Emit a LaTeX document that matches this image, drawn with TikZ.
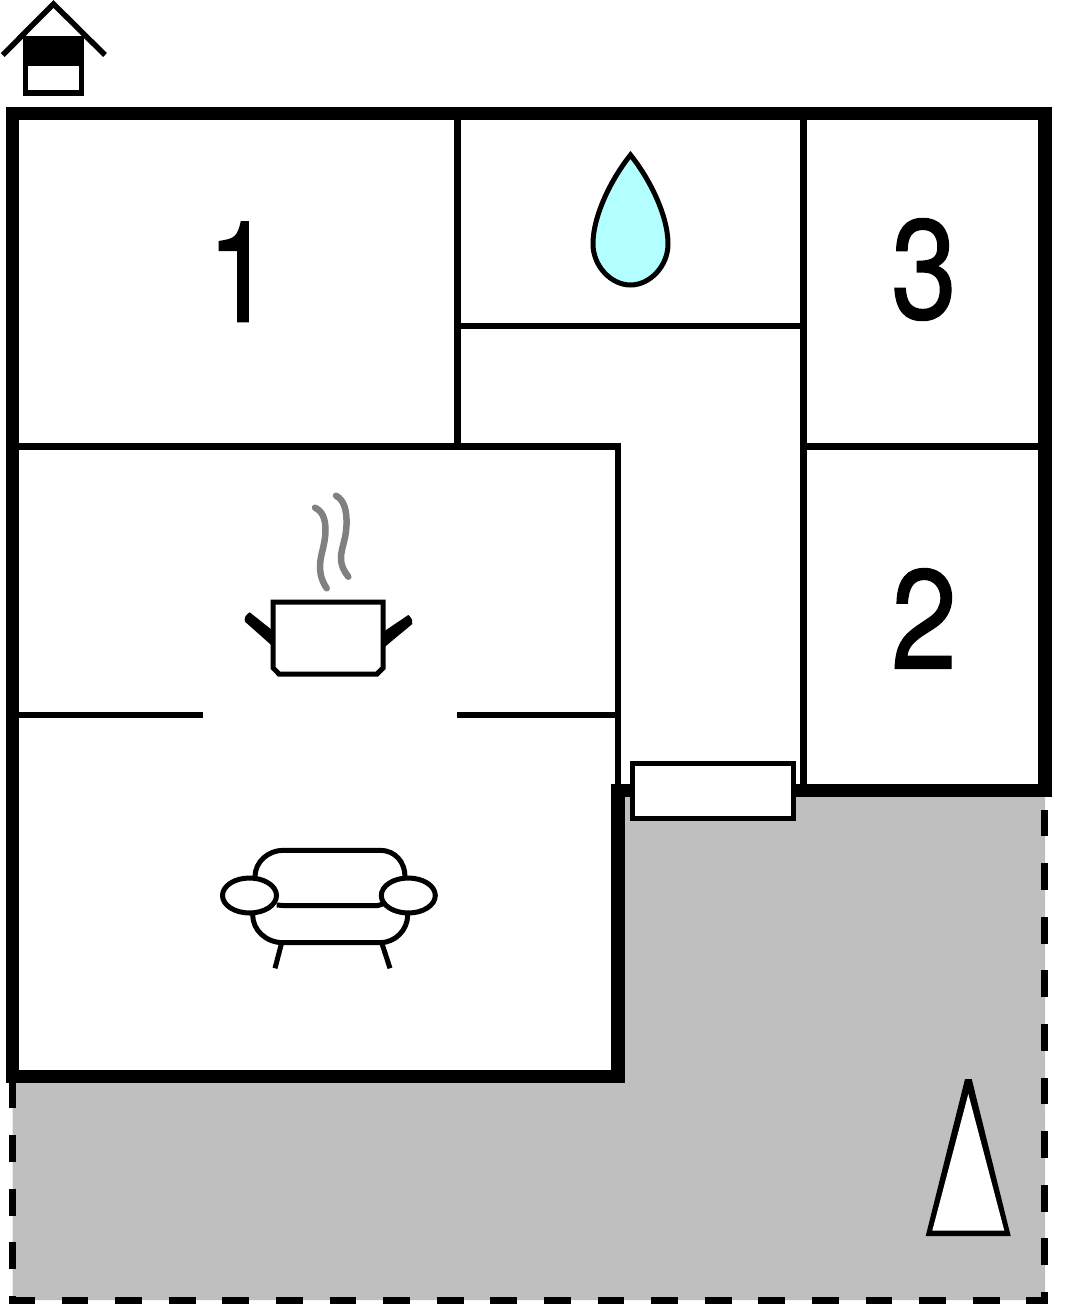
\documentclass[tikz,border=0pt]{standalone}
\usepackage{fontspec}
\newfontfamily\roomfont{TeX Gyre Heros}[FakeBold=1]
\usepackage{xcolor}
\usepackage{tikz}
\definecolor{yardgray}{HTML}{BFBFBF}
\definecolor{dropblue}{HTML}{B3FFFF}
\definecolor{steamgray}{HTML}{808080}
\tikzstyle{thickwall} = [line width = 13.3pt, draw = black]
\tikzstyle{thinwall} = [line width = 6.5pt, draw = black]
\tikzstyle{icon} = [line width = 5pt, draw = black]
\tikzstyle{steam} = [line width = 6.5pt, draw = steamgray, line cap = round]
\tikzstyle{roomnum} = [font = \roomfont\fontsize{141}{141}\selectfont, inner sep = 0pt, xscale = 0.84, transform shape]

\begin{document}
\begin{tikzpicture}[x = 1pt, y = -1pt]
\useasboundingbox (0, 0) rectangle (1069, 1304);
\fill [yardgray] (12.5, 1076) -- (618, 1076) -- (618, 790) -- (1045, 790) -- (1045, 1300) -- (12.5, 1300) -- cycle;
\draw [line width = 7.2pt, draw = black, dash pattern = on 26.8pt off 26.8pt] (12.2, 1081.5) -- (12.2, 1300.2) -- (1044.8, 1300.2) -- (1044.8, 797);
\draw [thinwall] (457.3, 114) -- (457.3, 449);
\draw [thinwall] (803.7, 114) -- (803.7, 790);
\draw [thinwall] (457.3, 326) -- (803.7, 326);
\draw [thinwall] (12.5, 446.7) -- (618, 446.7) -- (618, 790);
\draw [thinwall] (803.7, 446.7) -- (1045, 446.7);
\draw [thinwall] (12.5, 715) -- (202.5, 715);
\draw [thinwall] (457, 715) -- (618, 715);
\draw [thickwall] (12.5, 113.5) -- (1045, 113.5) -- (1045, 790.5) -- (618, 790.5) -- (618, 1076.7) -- (12.5, 1076.7) -- cycle;
\draw [icon, fill = white] (632.7, 763.5) rectangle (793.5, 818.3);
\fill [black] (22.7, 36) rectangle (84, 95.7);
\fill [white] (28.3, 66) rectangle (79, 90.3);
\draw [icon, line width = 5.5pt] (2.7, 55) -- (53.5, 4) -- (105, 55);
\node [roomnum] (room1) at (240, 271.7) {1};
\node [roomnum] (room3) at (924, 269.5) {3};
\node [roomnum] (room2) at (924, 618.5) {2};
\draw [icon, fill = dropblue] (630.5, 155) .. controls (612, 178) and (593, 215) .. (593, 244) .. controls (593, 266) and (611, 285) .. (630.5, 285) .. controls (650, 285) and (668, 266) .. (668, 244) .. controls (668, 215) and (649, 178) .. (630.5, 155) -- cycle;
\draw [steam] (315, 507.7) .. controls (322, 511) and (325.5, 518) .. (325.5, 530) .. controls (325.5, 545) and (319.5, 556) .. (320, 568) .. controls (320.5, 577) and (323, 583) .. (326.7, 588.3);
\draw [steam] (336, 495.7) .. controls (344, 500) and (347, 510) .. (346.5, 525) .. controls (346, 540) and (341, 548) .. (341, 558) .. controls (341, 566) and (344, 571) .. (348.3, 576.7);
\fill [black] (249.7, 612.3) .. controls (245, 615) and (244, 619) .. (245, 621.7) -- (272, 645.7) -- (272, 630) -- cycle;
\fill [black] (408.3, 615) .. controls (412, 618) and (413, 621) .. (412.3, 624) -- (385, 646.7) -- (385, 630.7) -- cycle;
\draw [icon, fill = white] (273.2, 602) -- (383, 602) -- (383, 668) -- (377, 674) -- (279, 674) -- (273.2, 668) -- cycle;
\draw [icon] (255, 876.7) .. controls (255, 862) and (268, 850.3) .. (283.3, 850.3) -- (380, 850.3) .. controls (395, 850.3) and (405, 862) .. (405, 876.7);
\draw [icon] (276.7, 905) -- (283, 905.5) -- (378, 905.5) -- (382.7, 904);
\draw [icon] (252.7, 915) .. controls (252.7, 930) and (266, 942.7) .. (283.3, 942.7) -- (380, 942.7) .. controls (395, 942.7) and (407.7, 930) .. (407.7, 915);
\draw [icon] (281.7, 942.7) -- (275, 968.3);
\draw [icon] (381.7, 942.7) -- (390, 968.3);
\draw [icon] (249.5, 895.5) ellipse [x radius = 27, y radius = 17.5];
\draw [icon] (408.3, 895.5) ellipse [x radius = 27, y radius = 17.5];
\fill [black] (965, 1079) -- (971.7, 1079) -- (1010.7, 1236) -- (925.7, 1236) -- cycle;
\fill [white] (968.3, 1094) -- (1004.3, 1230.7) -- (932.3, 1230.7) -- cycle;
\end{tikzpicture}
\end{document}
